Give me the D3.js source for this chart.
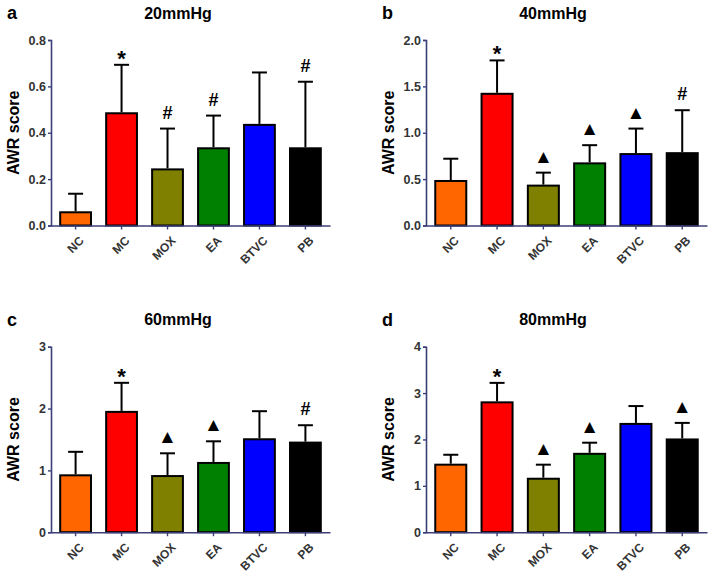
<!DOCTYPE html>
<html lang="en">
    <head>
        <meta charset="utf-8">
        <title>AWR score bars</title>
        <script type="text/javascript" src="https://cdn.jsdelivr.net/npm/d3@7"></script>
        <style type="text/css">
            body {
                margin: 0;
                background: #fff;
            }
            text {
                font-family: "Liberation Sans", Arial, sans-serif;
                font-weight: bold;
            }
        </style>
    </head>
    <body>
        <script type="text/javascript">

            //Data
            var groups = ["NC", "MC", "MOX", "EA", "BTVC", "PB"];
            var colors = ["#ff6600", "#ff0000", "#808000", "#008000", "#0000ff", "#000000"];

            var titles = ["20mmHg", "40mmHg", "60mmHg", "80mmHg"];
            var letters = ["a", "b", "c", "d"];
            var yMax = [0.8, 2.0, 3, 4];
            var yTicks = [[0, 0.2, 0.4, 0.6, 0.8], [0, 0.5, 1.0, 1.5, 2.0], [0, 1, 2, 3], [0, 1, 2, 3, 4]];
            var tickFormats = [".1f", ".1f", "d", "d"];

            var mean20 = [0.057, 0.484, 0.242, 0.333, 0.434, 0.333];
            var upper20 = [0.137, 0.693, 0.418, 0.474, 0.660, 0.620];
            var mark20 = ["", "*", "#", "#", "", "#"];

            var mean40 = [0.48, 1.42, 0.43, 0.67, 0.77, 0.78];
            var upper40 = [0.72, 1.78, 0.57, 0.866, 1.045, 1.243];
            var mark40 = ["", "*", "\u25B2", "\u25B2", "\u25B2", "#"];

            var mean60 = [0.92, 1.946, 0.908, 1.12, 1.503, 1.449];
            var upper60 = [1.30, 2.416, 1.276, 1.47, 1.957, 1.73];
            var mark60 = ["", "*", "\u25B2", "\u25B2", "", "#"];

            var mean80 = [1.456, 2.80, 1.153, 1.69, 2.335, 2.00];
            var upper80 = [1.67, 3.22, 1.456, 1.93, 2.72, 2.357];
            var mark80 = ["", "*", "\u25B2", "\u25B2", "", "\u25B2"];

            var means = [mean20, mean40, mean60, mean80];
            var uppers = [upper20, upper40, upper60, upper80];
            var marks = [mark20, mark40, mark60, mark80];

            //Width and height
            var w = 708;
            var h = 574;
            var axisColor = "#3a3f78";

            //Panel placement (left of plot, top of plot)
            var panelX = [51, 426, 51, 426];
            var panelY = [40, 40, 346.7, 346.7];
            var plotW = [279, 281, 279, 281];
            var plotH = 185.5;

            var svg = d3.select("body")
                        .append("svg")
                        .attr("width", w)
                        .attr("height", h);

            //Mark style per symbol
            function markSize(m) {
                if (m === "*") return "22px";
                if (m === "#") return "18px";
                return "19px";
            }
            function markGap(m) {
                if (m === "*") return -1;
                return 10;
            }

            titles.forEach(function(title, p) {
                var g = svg.append("g")
                    .attr("transform", "translate(" + panelX[p] + "," + panelY[p] + ")");

                var x = d3.scaleBand()
                    .domain(groups)
                    .range([0, plotW[p]])
                    .paddingInner(0.33)
                    .paddingOuter(0.2);

                var y = d3.scaleLinear()
                    .domain([0, yMax[p]])
                    .range([plotH, 0]);

                //Panel letter and title
                g.append("text")
                    .attr("x", -44)
                    .attr("y", -27)
                    .attr("dy", "0.35em")
                    .style("font-size", "18px")
                    .attr("fill", "#000")
                    .text(letters[p]);

                g.append("text")
                    .attr("x", 127)
                    .attr("y", -27)
                    .attr("dy", "0.35em")
                    .attr("text-anchor", "middle")
                    .style("font-size", "16px")
                    .attr("fill", "#000")
                    .text(title);

                //Y axis title
                g.append("text")
                    .attr("transform", "translate(-38," + (plotH / 2) + ") rotate(-90)")
                    .attr("text-anchor", "middle")
                    .attr("dy", "0.35em")
                    .style("font-size", "16px")
                    .attr("fill", "#000")
                    .text("AWR score");

                //Bars
                g.selectAll("rect.bar")
                    .data(groups)
                    .enter()
                    .append("rect")
                    .attr("class", "bar")
                    .attr("x", function(d) { return x(d); })
                    .attr("width", x.bandwidth())
                    .attr("y", function(d, i) { return y(means[p][i]); })
                    .attr("height", function(d, i) { return plotH - y(means[p][i]); })
                    .attr("fill", function(d, i) { return colors[i]; })
                    .attr("stroke", "#000")
                    .attr("stroke-width", 2);

                //Error bars (upper only)
                var err = g.selectAll("g.err")
                    .data(groups)
                    .enter()
                    .append("g")
                    .attr("class", "err")
                    .attr("stroke", "#000")
                    .attr("stroke-width", 2);

                err.append("line")
                    .attr("x1", function(d) { return x(d) + x.bandwidth() / 2; })
                    .attr("x2", function(d) { return x(d) + x.bandwidth() / 2; })
                    .attr("y1", function(d, i) { return y(means[p][i]) - 1; })
                    .attr("y2", function(d, i) { return y(uppers[p][i]); });

                err.append("line")
                    .attr("x1", function(d) { return x(d) + x.bandwidth() / 2 - 7.5; })
                    .attr("x2", function(d) { return x(d) + x.bandwidth() / 2 + 7.5; })
                    .attr("y1", function(d, i) { return y(uppers[p][i]); })
                    .attr("y2", function(d, i) { return y(uppers[p][i]); });

                //Significance marks
                g.selectAll("text.mark")
                    .data(groups)
                    .enter()
                    .append("text")
                    .attr("class", "mark")
                    .attr("x", function(d) { return x(d) + x.bandwidth() / 2; })
                    .attr("y", function(d, i) { return y(uppers[p][i]) - markGap(marks[p][i]); })
                    .attr("text-anchor", "middle")
                    .style("font-size", function(d, i) { return markSize(marks[p][i]); })
                    .attr("fill", "#000")
                    .text(function(d, i) { return marks[p][i]; });

                //Axes
                var yAxis = g.append("g")
                    .call(d3.axisLeft(y)
                        .tickValues(yTicks[p])
                        .tickSize(3)
                        .tickPadding(2)
                        .tickFormat(d3.format(tickFormats[p])));

                var xAxis = g.append("g")
                    .attr("transform", "translate(0," + plotH + ")")
                    .call(d3.axisBottom(x).tickSize(4).tickSizeOuter(0));

                [yAxis, xAxis].forEach(function(a) {
                    a.select(".domain").attr("stroke", axisColor).attr("stroke-width", 1.6);
                    a.selectAll(".tick line").attr("stroke", axisColor).attr("stroke-width", 1.4);
                    a.selectAll(".tick text")
                        .attr("fill", "#333")
                        .style("font-size", "12.5px")
                        .style("font-family", "'Liberation Sans', Arial, sans-serif")
                        .style("font-weight", "bold");
                });

                xAxis.selectAll(".tick text")
                    .style("font-size", "12px")
                    .attr("text-anchor", "end")
                    .attr("dx", "0")
                    .attr("dy", "0")
                    .attr("transform", "translate(4,11) rotate(-45)");
            });

        </script>
    </body>
</html>
